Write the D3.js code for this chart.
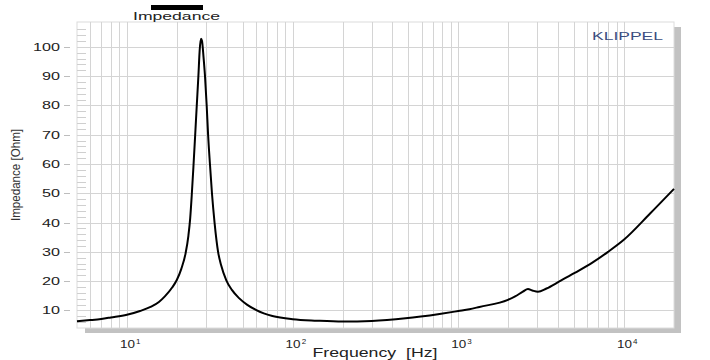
<!DOCTYPE html>
<html>
<head>
<meta charset="utf-8">
<script src="https://cdn.jsdelivr.net/npm/d3@7"></script>
<style>
  body { margin: 0; background: #fff; }
  svg { display: block; font-family: "Liberation Sans", Arial, sans-serif; }
</style>
</head>
<body>
<svg width="710" height="360"></svg>
<script>
// impedance curve
const freqs = [5, 6, 7, 8, 10, 12, 14, 15.6, 17, 18.8, 20, 21.3, 22.6, 23.5, 24.1, 24.6, 25.2, 25.8, 26.4, 27, 27.5, 28,
  28.4, 29, 29.6, 30.3, 30.9, 31.7, 32.6, 33.8, 35.5, 37, 39.8, 43, 47.5, 53, 60, 67, 75.5, 100, 140, 200, 300, 480, 770,
  1000, 1165, 1340, 1990, 2200, 2450, 2630, 2800, 3020, 3400, 4070, 5000, 6500, 8000, 10000, 14300, 20000];
const ohms = [6.3, 6.7, 7.1, 7.6, 8.5, 9.8, 11.3, 12.9, 14.9, 17.9, 20.4, 24.2, 29.5, 35.5, 41.5, 49, 59, 69.5, 80, 90, 99, 102.8,
  102, 96.5, 90, 80, 70, 60, 50, 40, 30, 25.5, 20.3, 17, 14.2, 12, 10.2, 9, 8.1, 7.0, 6.5, 6.2, 6.4, 7.3, 8.8,
  9.8, 10.4, 11.2, 13.6, 14.8, 16.4, 17.3, 16.8, 16.4, 17.5, 19.9, 22.7, 26.5, 30, 34.2, 43, 51.5];

const yTicks = [10, 20, 30, 40, 50, 60, 70, 80, 90, 100];
const yMinor = d3.range(6, 108, 2).filter(v => v % 10 !== 0);
const xDecades = [10, 100, 1000, 10000];
const xExponents = ["1", "2", "3", "4"];
const xGrid = [6, 7, 8, 9, 10, 20, 30, 40, 50, 60, 70, 80, 90, 100, 200, 300, 400, 500, 600, 700, 800, 900,
  1000, 2000, 3000, 4000, 5000, 6000, 7000, 8000, 9000, 10000];

const svg = d3.select("svg");
const x = d3.scaleLog().domain([5, 20000]).range([77, 674]);
const y = d3.scaleLinear().domain([4, 108.5]).range([328, 22]);

// shadow
svg.append("rect").attr("x", 674).attr("y", 27).attr("width", 7).attr("height", 306).attr("fill", "#c2c2c2");
svg.append("rect").attr("x", 85).attr("y", 328).attr("width", 596).attr("height", 5).attr("fill", "#c2c2c2");

// plot area
svg.append("rect").attr("x", 77).attr("y", 22).attr("width", 597).attr("height", 306)
  .attr("fill", "#fff").attr("stroke", "#dcdcdc");

const grid = svg.append("g").attr("stroke", "#d4d4d4").attr("stroke-width", 1);
grid.selectAll("line.v").data(xGrid).join("line").classed("v", true)
  .attr("x1", d => Math.round(x(d)) + 0.5).attr("x2", d => Math.round(x(d)) + 0.5)
  .attr("y1", 22).attr("y2", 328);
grid.selectAll("line.h").data(yTicks).join("line").classed("h", true)
  .attr("x1", 77).attr("x2", 674)
  .attr("y1", d => Math.round(y(d)) + 0.5).attr("y2", d => Math.round(y(d)) + 0.5);

// y minor ticks inside left edge
svg.append("g").attr("stroke", "#cfcfcf").selectAll("line").data(yMinor).join("line")
  .attr("x1", 77).attr("x2", 86)
  .attr("y1", d => Math.round(y(d)) + 0.5).attr("y2", d => Math.round(y(d)) + 0.5);
// y major ticks outside
svg.append("g").attr("stroke", "#bdbdbd").selectAll("line").data(yTicks).join("line")
  .attr("x1", 64).attr("x2", 70)
  .attr("y1", d => Math.round(y(d)) + 0.5).attr("y2", d => Math.round(y(d)) + 0.5);

// y tick labels
svg.append("g").selectAll("text").data(yTicks).join("text")
  .attr("x", 60).attr("y", d => y(d) + 4)
  .attr("text-anchor", "end").attr("font-size", 10.5).attr("fill", "#222")
  .attr("textLength", d => String(d).length * 9).attr("lengthAdjust", "spacingAndGlyphs")
  .text(d => d);

// x tick labels with exponent
const xl = svg.append("g").attr("fill", "#222");
xl.selectAll("text.base").data(xDecades).join("text").classed("base", true)
  .attr("x", d => x(d) - 7).attr("y", 348).attr("font-size", 10.5)
  .attr("textLength", 15).attr("lengthAdjust", "spacingAndGlyphs")
  .text("10");
xl.selectAll("text.exp").data(xDecades).join("text").classed("exp", true)
  .attr("x", d => x(d) + 9).attr("y", 344).attr("font-size", 8)
  .text((d, i) => xExponents[i]);

// axis titles
svg.append("text").attr("x", 375).attr("y", 357).attr("text-anchor", "middle")
  .attr("font-size", 12).attr("fill", "#222")
  .attr("textLength", 125).attr("lengthAdjust", "spacingAndGlyphs")
  .attr("xml:space", "preserve")
  .text("Frequency  [Hz]");
svg.append("text").attr("transform", "translate(20,175) rotate(-90)")
  .attr("text-anchor", "middle").attr("font-size", 13).attr("fill", "#333")
  .attr("textLength", 92).attr("lengthAdjust", "spacingAndGlyphs")
  .text("Impedance [Ohm]");

// legend
svg.append("rect").attr("x", 151).attr("y", 5).attr("width", 52).attr("height", 5).attr("fill", "#000");
svg.append("text").attr("x", 133).attr("y", 20).attr("font-size", 11).attr("fill", "#222")
  .attr("textLength", 87).attr("lengthAdjust", "spacingAndGlyphs")
  .text("Impedance");

// watermark
svg.append("text").attr("x", 592).attr("y", 40).attr("font-size", 10).attr("fill", "#3b4d80")
  .attr("textLength", 71).attr("lengthAdjust", "spacingAndGlyphs")
  .text("KLIPPEL");

// curve
const pts = freqs.map((f, i) => [f, ohms[i]]);
const line = d3.line().x(d => x(d[0])).y(d => y(d[1])).curve(d3.curveMonotoneX);
svg.append("path").datum(pts).attr("d", line)
  .attr("fill", "none").attr("stroke", "#000").attr("stroke-width", 2).attr("stroke-linejoin", "round");
</script>
</body>
</html>
